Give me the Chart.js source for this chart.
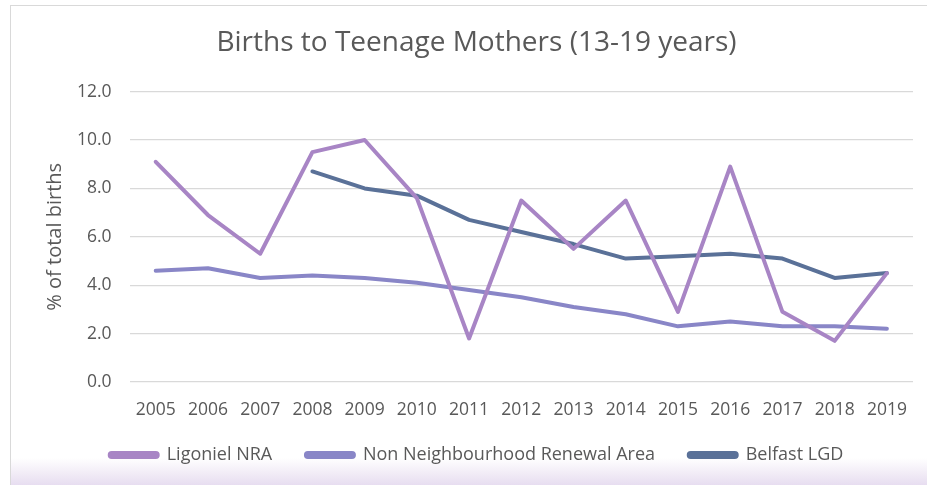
<!DOCTYPE html>
<html>
<head>
<meta charset="utf-8">
<script src="https://cdn.jsdelivr.net/npm/chart.js@4"></script>
<style>
  html, body { margin: 0; padding: 0; background: #fff; }
  #frame {
    position: absolute; left: 10px; top: 5px; width: 930px; height: 480px;
    border-left: 1px solid #d9d9d9; border-top: 1px solid #d9d9d9;
    background: linear-gradient(to bottom, #fff 0, #fff 452px, #f1ebf6 468px, #e6dcf0 480px);
  }
  #wrap { position: absolute; left: 0; top: 0; width: 927px; height: 485px; }
</style>
</head>
<body>
<div id="frame"></div>
<div id="wrap"><canvas id="chart" width="927" height="485"></canvas></div>
<script>
// Births to teenage mothers, % of total births
const years = ['2005', '2006', '2007', '2008', '2009', '2010', '2011', '2012',
               '2013', '2014', '2015', '2016', '2017', '2018', '2019'];
const ligonielNRA = [9.1, 6.9, 5.3, 9.5, 10.0, 7.6, 1.8, 7.5, 5.5, 7.5, 2.9, 8.9, 2.9, 1.7, 4.5];
const nonNRA = [4.6, 4.7, 4.3, 4.4, 4.3, 4.1, 3.8, 3.5, 3.1, 2.8, 2.3, 2.5, 2.3, 2.3, 2.2];
const belfastLGD = [null, null, null, 8.7, 8.0, 7.7, 6.7, 6.2, 5.7, 5.1, 5.2, 5.3, 5.1, 4.3, 4.5];

const textGrey = '#595959';
const font = 'Open Sans';

function series(label, data, colour) {
    return {
        label: label,
        data: data,
        borderColor: colour,
        backgroundColor: colour,
        borderWidth: 4,
        pointRadius: 0,
        tension: 0,
        borderCapStyle: 'round',
        borderJoinStyle: 'round',
        spanGaps: false
    };
}

new Chart(document.getElementById('chart').getContext('2d'), {
    type: 'line',
    data: {
        labels: years,
        datasets: [
            series('Ligoniel NRA', ligonielNRA, '#a885c5'),
            series('Non Neighbourhood Renewal Area', nonNRA, '#8986c7'),
            series('Belfast LGD', belfastLGD, '#5a7198')
        ]
    },
    options: {
        responsive: false,
        animation: false,
        layout: { padding: { left: 40, right: 14, top: 26, bottom: 11 } },
        plugins: {
            title: {
                display: true,
                text: 'Births to Teenage Mothers (13-19 years)',
                color: textGrey,
                font: { family: font, size: 28, weight: 'normal' },
                padding: { top: 0, bottom: 32 }
            },
            legend: {
                position: 'bottom',
                labels: {
                    color: textGrey,
                    font: { family: font, size: 18 },
                    boxWidth: 48,
                    boxHeight: 4,
                    useBorderRadius: true,
                    borderRadius: 2,
                    padding: 15,
                    // trailing spaces widen the gap between legend entries
                    generateLabels: function(chart) {
                        const items = Chart.defaults.plugins.legend.labels.generateLabels(chart);
                        items.forEach(function(it, i) {
                            if (i < items.length - 1) it.text = it.text + '    ';
                        });
                        return items;
                    }
                }
            },
            tooltip: { enabled: false }
        },
        scales: {
            x: {
                offset: true,
                grid: { display: false },
                border: { display: false },
                ticks: { color: textGrey, font: { family: font, size: 17.5 }, padding: 10, maxRotation: 0 }
            },
            y: {
                min: 0,
                max: 12,
                ticks: {
                    stepSize: 2,
                    color: textGrey,
                    font: { family: font, size: 17.5 },
                    padding: 18,
                    callback: function(v) { return v.toFixed(1); }
                },
                grid: { color: '#d9d9d9', lineWidth: 1.3, drawTicks: false },
                border: { display: false },
                title: {
                    display: true,
                    text: '% of total births',
                    color: textGrey,
                    font: { family: font, size: 20 },
                    padding: { top: 3, bottom: -8 }
                }
            }
        }
    }
});
</script>
</body>
</html>
